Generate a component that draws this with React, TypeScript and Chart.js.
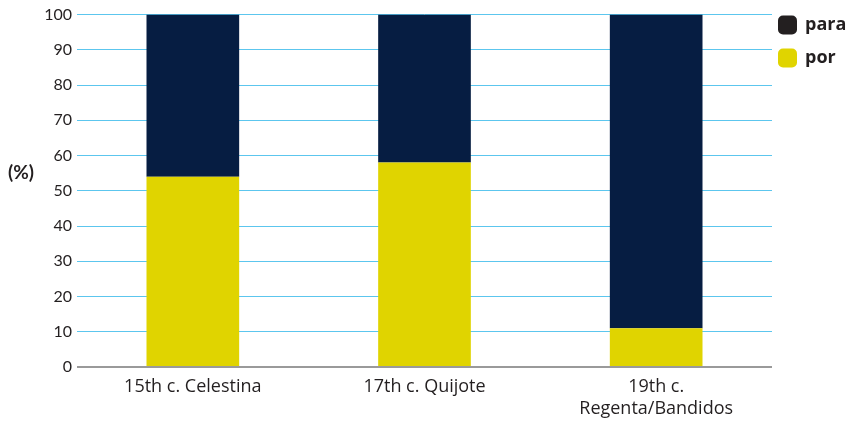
import React, { useEffect, useRef } from "react";
import { Chart, registerables } from "chart.js";

Chart.register(...registerables);

const categories: (string | string[])[] = ["15th c. Celestina", "17th c. Quijote", ["19th c.", "Regenta/Bandidos"]];
const porValues = [54, 58, 11];
const paraValues = [46, 42, 89];
const legendLabels = ["para", "por"];
const yTitle = "(%)";

const PARA_COLOR = "#061d42";
const POR_COLOR = "#e0d400";
const TEXT_COLOR = "#231f20";

const overlayPlugin = {
  id: "overlay",
  afterDraw(chart: any) {
    const ctx = chart.ctx;
    const area = chart.chartArea;
    ctx.save();
    // y title
    ctx.fillStyle = TEXT_COLOR;
    ctx.font = "bold 19px Lato, sans-serif";
    ctx.textAlign = "left";
    ctx.textBaseline = "middle";
    const yScale = chart.scales.y;
    ctx.fillText(yTitle, 8, yScale.getPixelForValue(55));
    // legend
    const items = [
      { label: legendLabels[0], color: "#231f20" },
      { label: legendLabels[1], color: POR_COLOR },
    ];
    const x0 = area.right + 6;
    items.forEach((it, i) => {
      const cy = 25 + i * 33;
      ctx.fillStyle = it.color;
      ctx.beginPath();
      (ctx as any).roundRect(x0, cy - 9.5, 19, 19, 5);
      ctx.fill();
      ctx.fillStyle = TEXT_COLOR;
      ctx.font = "bold 18px 'Open Sans', sans-serif";
      ctx.textAlign = "left";
      ctx.textBaseline = "middle";
      ctx.fillText(it.label, x0 + 27, cy);
    });
    ctx.restore();
  },
};

export default function App() {
  const ref = useRef<HTMLCanvasElement | null>(null);
  useEffect(() => {
    document.body.style.margin = "0";
    const canvas = ref.current;
    if (!canvas) return;
    const chart = new Chart(canvas, {
      type: "bar",
      data: {
        labels: categories as any,
        datasets: [
          { label: legendLabels[1], data: porValues, backgroundColor: POR_COLOR, barPercentage: 0.4, categoryPercentage: 1 },
          { label: legendLabels[0], data: paraValues, backgroundColor: PARA_COLOR, barPercentage: 0.4, categoryPercentage: 1 },
        ],
      },
      options: {
        animation: false,
        responsive: false,
        maintainAspectRatio: false,
        layout: { padding: { top: 14, right: 78, left: 0, bottom: 0 } },
        plugins: { legend: { display: false }, tooltip: { enabled: false } },
        scales: {
          x: {
            stacked: true,
            grid: { display: false },
            border: { display: false },
            ticks: {
              color: TEXT_COLOR,
              font: { family: "'Liberation Sans Narrow', 'Open Sans', sans-serif", size: 18, lineHeight: 1.2 },
              padding: 1,
              maxRotation: 0,
              autoSkip: false,
            },
            afterFit: (s: any) => { s.height = 54; },
          },
          y: {
            stacked: true,
            min: 0,
            max: 100,
            border: { display: false },
            grid: {
              drawTicks: false,
              color: (c: any) => (c.tick && c.tick.value === 0 ? "#9a9a9a" : "#5cc6ee"),
              lineWidth: (c: any) => (c.tick && c.tick.value === 0 ? 2 : 1),
            },
            ticks: {
              stepSize: 10,
              color: TEXT_COLOR,
              font: { family: "Lato, 'Open Sans', sans-serif", size: 16 },
              padding: 5,
            },
            afterFit: (s: any) => { s.width = 77; },
          },
        },
      },
      plugins: [overlayPlugin],
    });
    return () => chart.destroy();
  }, []);
  return (
    <div style={{ position: "absolute", left: 0, top: 0, width: 850, height: 421 }}>
      <canvas ref={ref} width={850} height={421} style={{ width: 850, height: 421 }} />
    </div>
  );
}
